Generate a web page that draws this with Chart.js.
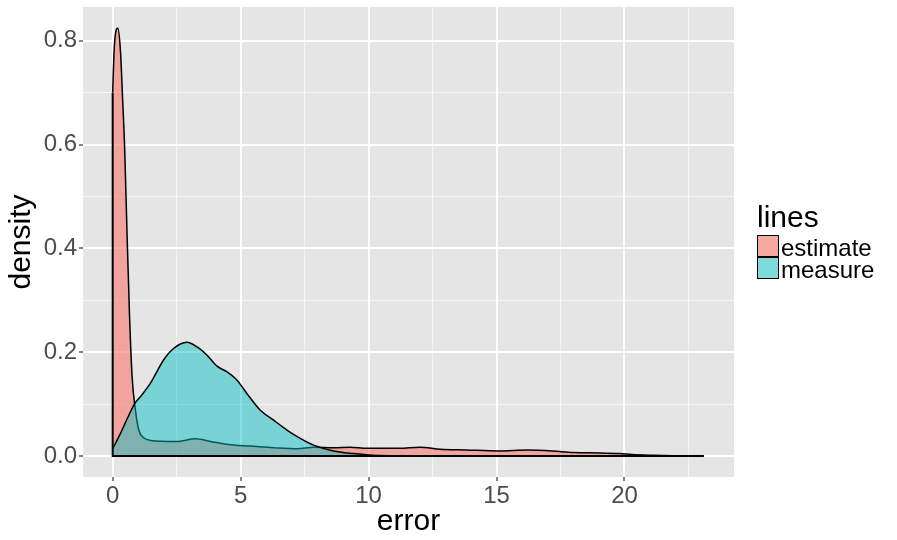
<!DOCTYPE html>
<html>
<head>
<meta charset="utf-8">
<script src="https://cdn.jsdelivr.net/npm/chart.js@4/dist/chart.umd.min.js"></script>
<style>
  body { margin: 0; background: #ffffff; }
  #wrap { width: 897px; height: 540px; }
</style>
</head>
<body>
<div id="wrap"><canvas id="chart" width="897" height="540"></canvas></div>
<script>
// density curves
const estX = [0, 0.05, 0.1, 0.2, 0.3, 0.39, 0.47, 0.56, 0.66, 0.76, 0.89, 1.02, 1.21, 1.47, 2.5, 3.23, 3.82, 4.73, 5.38, 6.29, 7.2, 7.85, 8.63, 9.28, 9.94, 11.2, 12.0, 12.8, 13.8, 15.1, 16.2, 17.2, 18.0, 19.05, 19.8, 20.3, 21.1, 21.9, 23.1];
const estY = [0.70, 0.775, 0.81, 0.824, 0.783, 0.686, 0.59, 0.43, 0.268, 0.152, 0.088, 0.05, 0.035, 0.030, 0.028, 0.033, 0.028, 0.021, 0.019, 0.016, 0.014, 0.017, 0.016, 0.017, 0.015, 0.015, 0.017, 0.013, 0.0116, 0.0097, 0.0116, 0.0097, 0.0066, 0.0058, 0.0046, 0.0027, 0.0013, 0.0004, 0];

const measX = [0, 0.3, 0.63, 0.86, 1.08, 1.47, 1.99, 2.38, 2.9, 3.3, 3.69, 4.08, 4.47, 4.86, 5.25, 5.77, 6.29, 6.81, 7.33, 7.85, 8.63, 9.41, 10.0, 11.0, 12.0];
const measY = [0.014, 0.043, 0.0785, 0.101, 0.114, 0.14, 0.185, 0.207, 0.219, 0.21, 0.194, 0.173, 0.162, 0.146, 0.12, 0.088, 0.069, 0.05, 0.034, 0.021, 0.0097, 0.0046, 0.002, 0.0005, 0];

const groups = ["estimate", "measure"];
const legendTitle = "lines";

const xMajor = [0, 5, 10, 15, 20];
const xMinor = [2.5, 7.5, 12.5, 17.5, 22.5];
const yMajor = [0, 0.2, 0.4, 0.6, 0.8];
const yMinor = [0.1, 0.3, 0.5, 0.7];

const fills = ["rgba(248,118,109,0.6)", "rgba(0,191,196,0.47)"];
const FONT = "'Liberation Sans', Arial, Helvetica, sans-serif";

Chart.defaults.font.family = FONT;

function toPoints(xs, ys) {
  return xs.map(function (x, i) {
    return { x: x, y: ys[i] };
  });
}

function setTicks(majors, minors) {
  return function (scale) {
    scale.ticks = majors.concat(minors).sort(function (a, b) { return a - b; }).map(function (v) {
      return { value: v };
    });
  };
}

const panelBg = {
  id: "panelBg",
  beforeDraw(chart) {
    const { ctx, chartArea: a } = chart;
    ctx.save();
    ctx.fillStyle = "#E5E5E5";
    ctx.fillRect(a.left, a.top, a.right - a.left, a.bottom - a.top);
    ctx.restore();
  },
};

const ggLegend = {
  id: "ggLegend",
  afterDraw(chart) {
    const ctx = chart.ctx;
    const x = 757;
    ctx.save();
    ctx.fillStyle = "#000000";
    ctx.textBaseline = "alphabetic";
    ctx.font = "30px " + FONT;
    ctx.fillText(legendTitle, x, 227);
    ctx.font = "24px " + FONT;
    groups.forEach(function (g, i) {
      const top = 235 + i * 22;
      ctx.fillStyle = "#F2F2F2";
      ctx.fillRect(x, top, 22, 22);
      ctx.fillStyle = fills[i];
      ctx.fillRect(x, top, 22, 22);
      ctx.strokeStyle = "#000000";
      ctx.lineWidth = 1;
      ctx.strokeRect(x + 0.5, top + 0.5, 21, 21);
      ctx.fillStyle = "#000000";
      ctx.fillText(g, x + 24, top + 21);
    });
    ctx.restore();
  },
};

new Chart(document.getElementById("chart"), {
  type: "line",
  data: {
    datasets: [
      {
        label: groups[0],
        data: toPoints(estX, estY),
        backgroundColor: fills[0],
        borderColor: "#000000",
        borderWidth: 1.5,
        fill: "origin",
        pointRadius: 0,
        cubicInterpolationMode: "monotone",
        order: 2,
      },
      {
        label: groups[1],
        data: toPoints(measX, measY),
        backgroundColor: fills[1],
        borderColor: "#000000",
        borderWidth: 1.5,
        fill: "origin",
        pointRadius: 0,
        cubicInterpolationMode: "monotone",
        order: 1,
      },
      {
        // polygon edges: left side at x=0 and the bottom along y=0
        label: "base",
        data: [
          { x: estX[0], y: estY[0] },
          { x: estX[0], y: 0 },
          { x: estX[estX.length - 1], y: 0 },
        ],
        borderColor: "#000000",
        borderWidth: 2,
        fill: false,
        pointRadius: 0,
        tension: 0,
        order: 0,
      },
    ],
  },
  options: {
    responsive: false,
    animation: false,
    layout: { padding: { left: 0, right: 163, top: 7, bottom: 0 } },
    plugins: {
      legend: { display: false },
      tooltip: { enabled: false },
    },
    scales: {
      x: {
        type: "linear",
        min: -1.16,
        max: 24.28,
        afterBuildTicks: setTicks(xMajor, xMinor),
        afterFit(scale) {
          scale.height = 63;
          scale.paddingLeft = 0;
          scale.paddingRight = 0;
        },
        border: { display: false },
        grid: {
          color: (c) => (xMajor.includes(c.tick.value) ? "#FFFFFF" : "rgba(255,255,255,0.65)"),
          lineWidth: (c) => (xMajor.includes(c.tick.value) ? 2 : 1),
          tickColor: (c) => (xMajor.includes(c.tick.value) ? "#333333" : "rgba(0,0,0,0)"),
          tickLength: 4,
          tickWidth: 1.2,
        },
        ticks: {
          autoSkip: false,
          maxRotation: 0,
          padding: 1,
          color: "#4D4D4D",
          font: { size: 24 },
          callback: (v) => (xMajor.includes(v) ? String(v) : ""),
        },
        title: {
          display: true,
          text: "error",
          color: "#000000",
          font: { size: 30 },
          padding: { top: 0, bottom: 0 },
        },
      },
      y: {
        type: "linear",
        min: -0.0405,
        max: 0.865,
        afterBuildTicks: setTicks(yMajor, yMinor),
        afterFit(scale) {
          scale.width = 83;
          scale.paddingTop = 0;
          scale.paddingBottom = 0;
        },
        border: { display: false },
        grid: {
          color: (c) => (yMajor.includes(c.tick.value) ? "#FFFFFF" : "rgba(255,255,255,0.65)"),
          lineWidth: (c) => (yMajor.includes(c.tick.value) ? 2 : 1),
          tickColor: (c) => (yMajor.includes(c.tick.value) ? "#333333" : "rgba(0,0,0,0)"),
          tickLength: 4,
          tickWidth: 1.2,
        },
        ticks: {
          autoSkip: false,
          padding: 2,
          color: "#4D4D4D",
          font: { size: 24 },
          callback: (v) => (yMajor.includes(v) ? v.toFixed(1) : ""),
        },
        title: {
          display: true,
          text: "density",
          color: "#000000",
          font: { size: 30 },
          padding: { top: 4, bottom: 0 },
        },
      },
    },
  },
  plugins: [panelBg, ggLegend],
});
</script>
</body>
</html>
